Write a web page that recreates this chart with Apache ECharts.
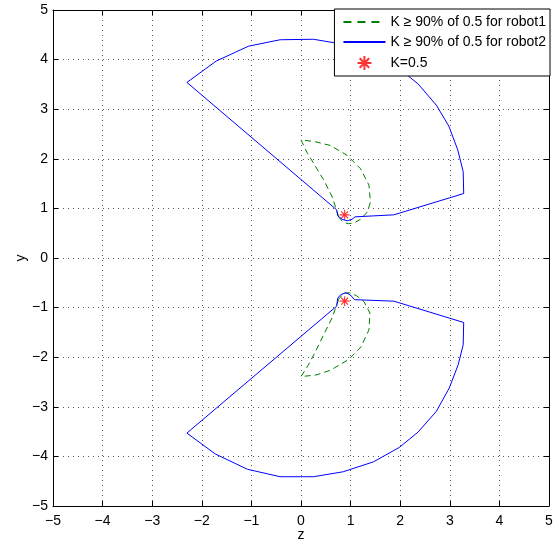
<!DOCTYPE html>
<html>
<head>
<meta charset="utf-8">
<script src="https://cdn.jsdelivr.net/npm/echarts@6/dist/echarts.min.js"></script>
<style>html,body{margin:0;padding:0;background:#fff;}#c{width:558px;height:543px;}</style>
</head>
<body>
<div id="c"></div>
<script>
const xTicks = [-5,-4,-3,-2,-1,0,1,2,3,4,5];
const yTicks = [-5,-4,-3,-2,-1,0,1,2,3,4,5];
const xName = 'z';
const yName = 'y';
const legendNames = ['K \u2265 90% of 0.5 for robot1', 'K \u2265 90% of 0.5 for robot2', 'K=0.5'];

const robot1Upper = [[0.76,0.83],[0.63,1.23],[0.46,1.57],[0.26,1.90],[0.12,2.13],[0.0,2.38],[0.26,2.35],[0.59,2.27],[0.93,2.07],[1.20,1.80],[1.37,1.47],[1.40,1.13],[1.34,0.93],[1.20,0.78],[1.07,0.71],[0.95,0.69],[0.84,0.73],[0.76,0.83]];
const robot1Lower = [[0.76,-0.83],[0.63,-1.20],[0.47,-1.52],[0.30,-1.87],[0.14,-2.17],[0.0,-2.39],[0.30,-2.36],[0.60,-2.26],[0.97,-2.04],[1.21,-1.79],[1.37,-1.45],[1.39,-1.11],[1.27,-0.88],[1.12,-0.76],[0.97,-0.70],[0.86,-0.71],[0.76,-0.83]];
const robot2Upper = [[0.72,0.97],[-2.30,3.54],[-1.71,3.97],[-1.06,4.27],[-0.42,4.40],[0.25,4.41],[0.85,4.31],[1.46,4.11],[1.98,3.82],[2.36,3.51],[2.73,3.08],[2.98,2.66],[3.16,2.18],[3.27,1.74],[3.28,1.30],[1.87,0.87],[1.09,0.83],[1.03,0.78],[0.93,0.75],[0.83,0.78],[0.74,0.85],[0.72,0.97]];
const robot2Lower = [[0.72,-0.97],[-2.30,-3.53],[-1.73,-3.95],[-1.08,-4.26],[-0.42,-4.41],[0.25,-4.41],[0.85,-4.31],[1.46,-4.11],[1.98,-3.82],[2.36,-3.51],[2.73,-3.09],[2.99,-2.62],[3.17,-2.15],[3.27,-1.75],[3.28,-1.30],[1.87,-0.87],[1.08,-0.84],[0.99,-0.74],[0.90,-0.70],[0.80,-0.74],[0.74,-0.81],[0.72,-0.97]];
const kPoints = [[0.88,0.87],[0.88,-0.87]];

const FONT = '"Liberation Sans", Arial, Helvetica, sans-serif';
const fmt = v => String(v).replace('-', '\u2212');
const star = 'path://M5 0 L5 10 M0 5 L10 5 M1.6 1.6 L8.4 8.4 M1.6 8.4 L8.4 1.6';

function axisBase(extra) {
  return Object.assign({
    type: 'value', min: -5, max: 5, interval: 1,
    axisLine: { show: true, onZero: false, lineStyle: { color: '#000', width: 1 } },
    axisTick: { show: true, inside: true, length: 5, lineStyle: { color: '#000' } },
    axisLabel: { color: '#000', fontSize: 14, fontFamily: FONT, formatter: fmt },
    splitLine: { show: false }
  }, extra);
}
const grid = { left: 53, right: 9, top: 10, bottom: 37, containLabel: false, outerBoundsMode: 'none' };
const split = { show: true, lineStyle: { color: '#555', type: [1, 4], width: 1 } };

const lineSeries = (name, data, color, dashed) => ({
  name, type: 'line', data, xAxisIndex: 0, yAxisIndex: 0,
  showSymbol: false, symbol: 'none', smooth: false, animation: false,
  lineStyle: { color, width: 1, type: dashed ? [6, 4] : 'solid' },
  itemStyle: { color }
});

const option = {
  animation: false,
  backgroundColor: '#fff',
  grid,
  legend: {
    data: [
      { name: legendNames[0], itemStyle: { opacity: 0 }, lineStyle: { type: [8, 6] } },
      { name: legendNames[1], itemStyle: { opacity: 0 } },
      { name: legendNames[2] }
    ],
    orient: 'vertical', right: 8, top: 9,
    backgroundColor: '#fff', borderColor: '#000', borderWidth: 1, borderRadius: 0,
    padding: [6, 4, 5, 8],
    itemWidth: 42, itemHeight: 14, itemGap: 6,
    textStyle: { color: '#000', fontSize: 14, fontFamily: FONT },
    selectedMode: false
  },
  graphic: [
    { type: 'text', x: 301, y: 535, style: { text: xName, font: '14px ' + FONT, fill: '#000', align: 'center', verticalAlign: 'middle' } },
    { type: 'text', x: 21, y: 258, rotation: Math.PI / 2, style: { text: yName, font: '14px ' + FONT, fill: '#000', align: 'center', verticalAlign: 'middle' } }
  ],
  xAxis: [
    axisBase({ position: 'bottom',
      axisLabel: { color: '#000', fontSize: 14, fontFamily: FONT, formatter: fmt, margin: 8 },
      splitLine: split }),
    axisBase({ position: 'top', axisLabel: { show: false } })
  ],
  yAxis: [
    axisBase({ position: 'left',
      axisLabel: { color: '#000', fontSize: 14, fontFamily: FONT, formatter: fmt, margin: 5 },
      splitLine: split }),
    axisBase({ position: 'right', axisLabel: { show: false } })
  ],
  series: [
    lineSeries(legendNames[0], robot1Upper, '#008000', true),
    lineSeries(legendNames[0], robot1Lower, '#008000', true),
    lineSeries(legendNames[1], robot2Upper, '#0000ff', false),
    lineSeries(legendNames[1], robot2Lower, '#0000ff', false),
    {
      name: legendNames[2], type: 'scatter', data: kPoints, xAxisIndex: 0, yAxisIndex: 0,
      symbol: star, symbolSize: 10, animation: false,
      itemStyle: { color: 'rgba(255,0,0,0)', borderColor: '#ff0000', borderWidth: 1.1 }
    }
  ]
};
const chart = echarts.init(document.getElementById('c'), null, { renderer: 'canvas' });
chart.setOption(option);
</script>
</body>
</html>
